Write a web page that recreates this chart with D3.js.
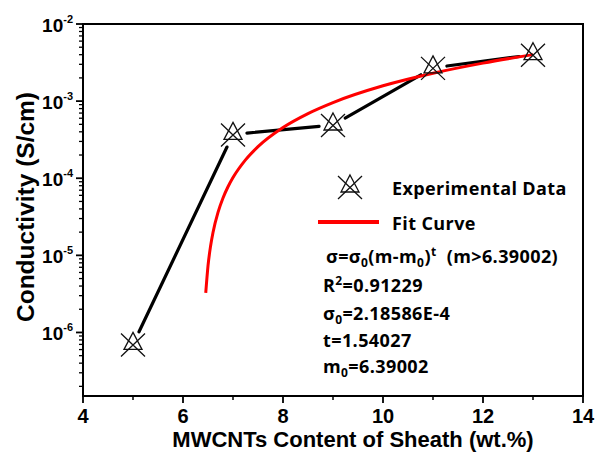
<!DOCTYPE html>
<html>
<head>
<meta charset="utf-8">
<script src="https://cdn.jsdelivr.net/npm/d3@7"></script>
<style>
  body { margin: 0; background: #fff; }
  svg text { font-family: "Liberation Sans", Arial, sans-serif; font-weight: bold; fill: #000; }
  .leg text { font-family: "Open Sans", Lato, sans-serif; white-space: pre; letter-spacing: 0.4px; }
</style>
</head>
<body>
<div id="chart"></div>
<script>
// --- Data ---
const mwcnt = [5, 7, 9, 11, 13];
const conductivity = [7.0e-7, 3.7e-4, 4.9e-4, 2.7e-3, 4.0e-3];

// fit curve samples (sigma = s0 (m - m0)^t)
const fitM = [6.455, 6.5, 6.55, 6.6, 6.7, 6.8, 6.9, 7, 7.25, 7.5, 8, 8.5, 9, 10, 11, 12, 13];
const fitSigma = [3.25e-6, 7.30e-6, 1.30e-5, 1.98e-5, 3.60e-5, 5.54e-5, 7.75e-5, 1.02e-4,
                  1.73e-4, 2.57e-4, 4.55e-4, 6.90e-4, 9.58e-4, 1.58e-3, 2.30e-3, 3.11e-3, 4.01e-3];

const xTicks = [4, 6, 8, 10, 12, 14];
const xMinor = [5, 7, 9, 11, 13];
const yDecades = [-2, -3, -4, -5, -6];

const params = ["R", "σ", "t=1.54027", "m"];

// --- Layout ---
const W = 597, H = 454;
const mLeft = 83, mRight = 583, mTop = 24, mBottom = 396;

const svg = d3.select('#chart').append('svg').attr('width', W).attr('height', H);

const x = d3.scaleLinear().domain([4, 14]).range([mLeft, mRight]);
const y = d3.scaleLog().domain([1.5e-7, 1e-2]).range([mBottom, mTop]);

// frame
svg.append('rect')
  .attr('x', mLeft).attr('y', mTop)
  .attr('width', mRight - mLeft).attr('height', mBottom - mTop)
  .attr('fill', 'none').attr('stroke', '#000').attr('stroke-width', 2);

// x axis ticks
svg.selectAll('line.xt').data(xTicks).join('line')
  .attr('x1', d => x(d)).attr('x2', d => x(d))
  .attr('y1', mBottom).attr('y2', mBottom + 7)
  .attr('stroke', '#000').attr('stroke-width', 1.8);
svg.selectAll('line.xm').data(xMinor).join('line')
  .attr('x1', d => x(d)).attr('x2', d => x(d))
  .attr('y1', mBottom).attr('y2', mBottom + 4)
  .attr('stroke', '#000').attr('stroke-width', 1.5);
svg.selectAll('text.xl').data(xTicks).join('text')
  .attr('x', d => x(d)).attr('y', mBottom + 27)
  .attr('text-anchor', 'middle').attr('font-size', 20)
  .text(d => d);

// y axis ticks (log)
const yMinor = [];
for (let e = -7; e < -2; e++) {
  for (let k = 2; k <= 9; k++) {
    const v = k * Math.pow(10, e);
    if (v >= 1.5e-7 && v <= 1e-2) yMinor.push(v);
  }
}
svg.selectAll('line.ym').data(yMinor).join('line')
  .attr('x1', mLeft - 4).attr('x2', mLeft)
  .attr('y1', d => y(d)).attr('y2', d => y(d))
  .attr('stroke', '#000').attr('stroke-width', 1.3);
svg.selectAll('line.yt').data(yDecades).join('line')
  .attr('x1', mLeft - 7).attr('x2', mLeft)
  .attr('y1', d => y(Math.pow(10, d))).attr('y2', d => y(Math.pow(10, d)))
  .attr('stroke', '#000').attr('stroke-width', 1.8);
const yl = svg.selectAll('text.yl').data(yDecades).join('text')
  .attr('x', mLeft - 10).attr('y', d => y(Math.pow(10, d)) + 8)
  .attr('text-anchor', 'end').attr('font-size', 19);
yl.append('tspan').text('10');
yl.append('tspan').attr('dy', -9).attr('font-size', 11).text(d => '-' + (-d));

// axis titles
svg.append('text')
  .attr('x', 353).attr('y', 447)
  .attr('text-anchor', 'middle').attr('font-size', 22)
  .text('MWCNTs Content of Sheath (wt.%)');
svg.append('text')
  .attr('transform', `translate(34,207) rotate(-90)`)
  .attr('text-anchor', 'middle').attr('font-size', 24.5)
  .text('Conductivity (S/cm)');

// connecting segments with gaps at markers
const pts = mwcnt.map((m, i) => [x(m), y(conductivity[i])]);
const gap = 14;
for (let i = 0; i < pts.length - 1; i++) {
  const [x1, y1] = pts[i], [x2, y2] = pts[i + 1];
  const len = Math.hypot(x2 - x1, y2 - y1);
  const ux = (x2 - x1) / len, uy = (y2 - y1) / len;
  svg.append('line')
    .attr('x1', x1 + ux * gap).attr('y1', y1 + uy * gap)
    .attr('x2', x2 - ux * gap).attr('y2', y2 - uy * gap)
    .attr('stroke', '#000').attr('stroke-width', 3.2).attr('stroke-linecap', 'round');
}

// fit curve
const line = d3.line().x(d => x(d[0])).y(d => y(d[1])).curve(d3.curveMonotoneX);
svg.append('path')
  .datum(fitM.map((m, i) => [m, fitSigma[i]]))
  .attr('d', line)
  .attr('fill', 'none').attr('stroke', '#ff0000').attr('stroke-width', 3);

// marker: triangle with a cross
function marker(g, cx, cy) {
  const s = g.append('g').attr('transform', `translate(${cx},${cy})`)
    .attr('stroke', '#111').attr('stroke-width', 1.3).attr('fill', 'none');
  s.append('path').attr('d', 'M0,-12 L9,5 L-9,5 Z');
  s.append('path').attr('d', 'M-12,-11 L12,12 M12,-11 L-12,12');
}
pts.forEach(p => marker(svg, p[0], p[1]));

// legend
const leg = svg.append('g').attr('class', 'leg');
marker(leg, 350, 187);
leg.append('text').attr('x', 392).attr('y', 195).attr('font-size', 18).text('Experimental Data');
leg.append('line').attr('x1', 318).attr('x2', 379).attr('y1', 222).attr('y2', 222)
  .attr('stroke', '#ff0000').attr('stroke-width', 4);
leg.append('text').attr('x', 392).attr('y', 230).attr('font-size', 18).text('Fit Curve');

const f = leg.append('text').attr('x', 326).attr('y', 263).attr('font-size', 18);
f.append('tspan').text('σ=σ');
f.append('tspan').attr('dy', 4).attr('font-size', 12).text('0');
f.append('tspan').attr('dy', -4).text('(m-m');
f.append('tspan').attr('dy', 4).attr('font-size', 12).text('0');
f.append('tspan').attr('dy', -4).text(')');
f.append('tspan').attr('dy', -7).attr('font-size', 12).text('t');
f.append('tspan').attr('dy', 7).text('  (m>6.39002)');

const r2 = leg.append('text').attr('x', 323).attr('y', 292).attr('font-size', 18);
r2.append('tspan').text(params[0]);
r2.append('tspan').attr('dy', -7).attr('font-size', 12).text('2');
r2.append('tspan').attr('dy', 7).text('=0.91229');

const s0 = leg.append('text').attr('x', 323).attr('y', 320).attr('font-size', 18);
s0.append('tspan').text(params[1]);
s0.append('tspan').attr('dy', 4).attr('font-size', 12).text('0');
s0.append('tspan').attr('dy', -4).text('=2.18586E-4');

leg.append('text').attr('x', 323).attr('y', 347).attr('font-size', 18).text(params[2]);

const m0 = leg.append('text').attr('x', 323).attr('y', 373).attr('font-size', 18);
m0.append('tspan').text(params[3]);
m0.append('tspan').attr('dy', 4).attr('font-size', 12).text('0');
m0.append('tspan').attr('dy', -4).text('=6.39002');
</script>
</body>
</html>
